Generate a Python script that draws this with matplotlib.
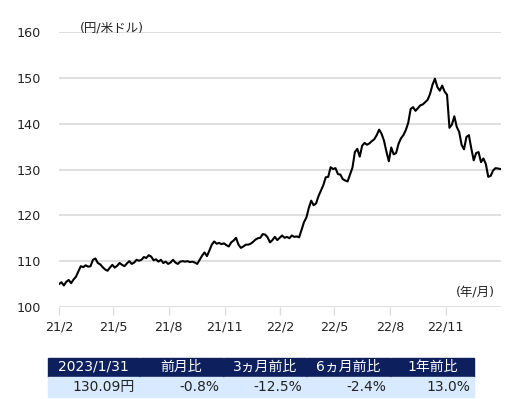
import matplotlib
matplotlib.use("Agg")
import matplotlib.pyplot as plt
import matplotlib.dates as mdates
import pandas as pd
from matplotlib.patches import Rectangle

plt.rcParams['font.family'] = ['DejaVu Sans', 'Noto Sans CJK JP']

# USD/JPY, one reading every 4 days from 2021-02-01
usdjpy = [
    105.0, 105.4, 104.7, 105.5, 105.9, 105.2, 106.0, 106.6, 107.8, 108.9,
    108.7, 109.1, 108.8, 108.9, 110.3, 110.6, 109.6, 109.3, 108.7, 108.2,
    107.9, 108.6, 109.2, 108.6, 109.0, 109.6, 109.2, 108.9, 109.5, 110.0,
    109.4, 109.7, 110.3, 110.1, 110.3, 110.9, 110.7, 111.3, 111.0, 110.2,
    110.4, 109.9, 110.3, 109.6, 109.9, 109.4, 109.7, 110.3, 109.7, 109.4,
    109.9, 110.0, 109.9, 110.0, 109.8, 109.9, 109.7, 109.4, 110.3, 111.2,
    111.9, 111.1, 112.3, 113.6, 114.3, 113.8, 114.0, 113.7, 113.9, 113.5,
    113.2, 114.1, 114.5, 115.1, 113.6, 112.9, 113.2, 113.6, 113.6, 113.8,
    114.2, 114.7, 115.0, 115.1, 115.9, 115.8, 115.2, 114.1, 114.6, 115.3,
    114.6, 115.1, 115.6, 115.1, 115.3, 115.0, 115.6, 115.3, 115.4, 115.2,
    116.8, 118.5, 119.5, 121.6, 123.2, 122.2, 122.6, 124.2, 125.4, 126.6,
    128.3, 128.4, 130.5, 130.1, 130.3, 129.0, 128.9, 127.9, 127.6, 127.4,
    128.9, 130.4, 133.8, 134.5, 132.8, 135.2, 135.8, 135.4, 135.7, 136.2,
    136.6, 137.5, 138.7, 137.8, 136.3, 133.9, 131.8, 134.8, 133.3, 133.6,
    135.6, 136.8, 137.5, 138.6, 140.2, 143.2, 143.6, 142.8, 143.4, 144.0,
    144.2, 144.7, 145.2, 146.5, 148.5, 149.8, 148.0, 147.2, 148.3, 147.0,
    146.3, 139.1, 139.8, 141.6, 139.3, 138.2, 135.4, 134.4, 137.1, 137.5,
    134.6, 132.0, 133.6, 133.8, 131.6, 132.4, 131.2, 128.4, 128.6, 129.8,
    130.3, 130.2, 130.1,
]
last_date = "2023-01-31"
last_value = 130.09

tick_dates = ["2021-02-01", "2021-05-01", "2021-08-01", "2021-11-01",
              "2022-02-01", "2022-05-01", "2022-08-01", "2022-11-01"]
tick_labels = ["21/2", "21/5", "21/8", "21/11", "22/2", "22/5", "22/8", "22/11"]
y_ticks = [100, 110, 120, 130, 140, 150, 160]

table_header = ["2023/1/31", "前月比", "3ヵ月前比", "6ヵ月前比", "1年前比"]
table_values = ["130.09円", "-0.8%", "-12.5%", "-2.4%", "13.0%"]

dates = list(pd.date_range("2021-02-01", periods=len(usdjpy), freq="4D"))
dates.append(pd.Timestamp(last_date))
values = usdjpy + [last_value]

W, H = 529, 399
fig = plt.figure(figsize=(W / 100, H / 100), dpi=100)
ax = fig.add_axes([59 / W, 1 - 307 / H, (501 - 59) / W, (307 - 32) / H])

ax.plot(dates, values, color="black", lw=1.5, solid_joinstyle="round")

ax.set_xlim(pd.Timestamp("2021-02-01"), pd.Timestamp(last_date))
ax.set_ylim(100, 160)
ax.set_yticks(y_ticks)
ax.yaxis.grid(True, color="#dcdcdc", lw=1.3)
ax.set_axisbelow(True)
for s in ["top", "right", "left", "bottom"]:
    ax.spines[s].set_visible(False)
ax.tick_params(axis="y", length=0, pad=13, labelsize=9.2, labelcolor="#222222")
ax.set_xticks([mdates.date2num(pd.Timestamp(d)) for d in tick_dates])
ax.set_xticklabels(tick_labels)
ax.tick_params(axis="x", length=6, width=1, color="#dcdcdc", pad=4,
               labelsize=9.2, labelcolor="#222222")

fig.text(80 / W, 1 - 28 / H, "(円/米ドル)", fontsize=9, color="#222222",
         va="center", ha="left")
fig.text(495 / W, 1 - 293 / H, "(年/月)", fontsize=9, color="#222222",
         va="center", ha="right")

# summary table
col_edges = [48, 140, 224, 307, 391, 475]
row_top, row_mid, row_bot = 357, 377, 397
for i in range(len(table_header)):
    x0, x1 = col_edges[i], col_edges[i + 1] - 1
    fig.patches.append(Rectangle((x0 / W, 1 - row_mid / H), (x1 - x0) / W,
                                 (row_mid - row_top - 1) / H,
                                 transform=fig.transFigure, color="#0d1f5c"))
    fig.patches.append(Rectangle((x0 / W, 1 - row_bot / H), (x1 - x0) / W,
                                 (row_bot - row_mid) / H,
                                 transform=fig.transFigure, color="#d7eaff"))
    fig.text((x0 + x1) / 2 / W, 1 - (row_top + row_mid) / 2 / H, table_header[i],
             color="white", fontsize=10, ha="center", va="center")
    fig.text((x1 - 4) / W, 1 - (row_mid + row_bot) / 2 / H, table_values[i],
             color="#222222", fontsize=10, ha="right", va="center")

fig.savefig("out.png", dpi=100)
